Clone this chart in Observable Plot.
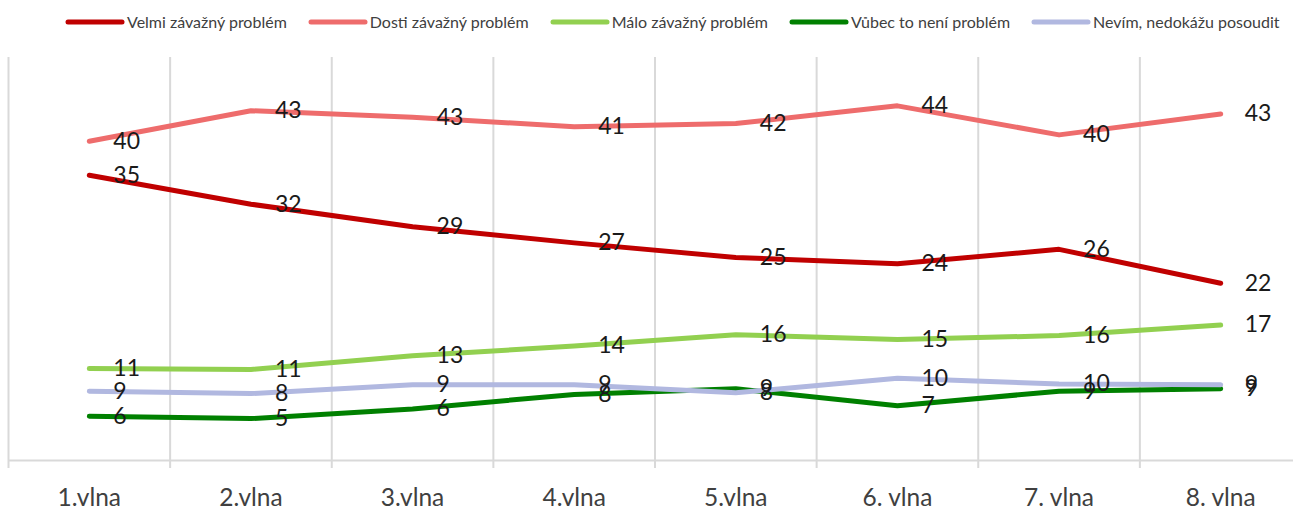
<!DOCTYPE html>
<html>
<head>
<meta charset="utf-8">
<script src="https://cdn.jsdelivr.net/npm/d3@7"></script>
<script src="https://cdn.jsdelivr.net/npm/@observablehq/plot@0.6"></script>
<style>
  html, body { margin: 0; padding: 0; background: #fff; overflow: hidden; }
  #legend { display: flex; align-items: center; height: 40px; box-sizing: border-box; padding-top: 3px; padding-left: 65px; gap: 21px; font-family: Lato, sans-serif; font-size: 16px; color: #404040; white-space: nowrap; }
  .item { display: inline-flex; align-items: center; }
  .item span { margin-left: 2px; }
</style>
</head>
<body>
<div id="legend"></div>
<div id="chart"></div>
<script>
const waves = ["1.vlna", "2.vlna", "3.vlna", "4.vlna", "5.vlna", "6. vlna", "7. vlna", "8. vlna"];
const seriesNames = ["Velmi závažný problém", "Dosti závažný problém", "Málo závažný problém", "Vůbec to není problém", "Nevím, nedokážu posoudit"];
const colors = ["#C00000", "#EE6C6C", "#92D050", "#008000", "#B1B8E0"];
const velmi = [35.4, 31.8, 29.0, 27.0, 25.2, 24.4, 26.2, 22.0];
const dosti = [39.6, 43.4, 42.6, 41.4, 41.8, 44.0, 40.4, 43.0];
const malo = [11.4, 11.3, 13.0, 14.2, 15.6, 15.0, 15.5, 16.8];
const vubec = [5.5, 5.2, 6.4, 8.2, 8.9, 6.8, 8.6, 8.9];
const nevim = [8.6, 8.3, 9.4, 9.4, 8.4, 10.2, 9.5, 9.4];

const seriesValues = [velmi, dosti, malo, vubec, nevim];
const rows = seriesNames.flatMap((s, k) => seriesValues[k].map((v, i) => ({series: s, i, value: v, label: v.toFixed(0)})));
const boundaries = d3.range(waves.length + 1).map(i => i - 0.5);

// Legend
const legend = d3.select("#legend");
seriesNames.forEach((s, k) => {
  const it = legend.append("div").attr("class", "item");
  const sv = it.append("svg").attr("width", 60).attr("height", 8);
  sv.append("line").attr("x1", 3).attr("x2", 57).attr("y1", 4).attr("y2", 4)
    .attr("stroke", colors[k]).attr("stroke-width", 5).attr("stroke-linecap", "round");
  it.append("span").text(s);
});

const grid = "#d9d9d9";
const chart = Plot.plot({
  width: 1293,
  height: 469,
  marginLeft: 8,
  marginRight: 0,
  marginTop: 17,
  marginBottom: 49,
  style: {fontFamily: "Lato, sans-serif", background: "#fff", overflow: "visible"},
  x: {type: "linear", domain: [-0.5, waves.length - 0.5], range: [8, 1301], label: null},
  y: {domain: [0, 50], axis: null},
  color: {domain: seriesNames, range: colors},
  marks: [
    Plot.ruleX(boundaries, {stroke: grid, strokeWidth: 2, insetBottom: -8}),
    Plot.ruleY([0], {stroke: grid, strokeWidth: 2}),
    Plot.axisX(d3.range(waves.length), {tickFormat: i => waves[i], tickSize: 0, tickPadding: 28, fontSize: 24.5, fill: "#404040", label: null}),
    Plot.line(rows, {x: "i", y: "value", z: "series", stroke: "series", strokeWidth: 5, strokeLinejoin: "round", strokeLinecap: "round"}),
    Plot.text(rows, {x: "i", y: "value", text: "label", dx: 24, textAnchor: "start", fontSize: 23, fill: "#1a1a1a"})
  ]
});
document.getElementById("chart").appendChild(chart);
</script>
</body>
</html>
